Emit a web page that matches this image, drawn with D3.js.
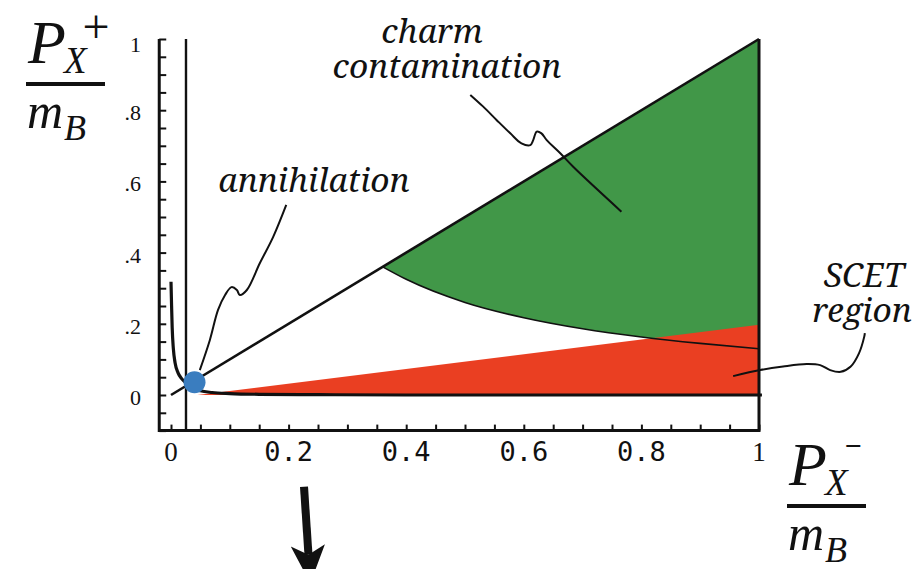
<!DOCTYPE html>
<html>
<head>
<meta charset="utf-8">
<script src="https://cdn.jsdelivr.net/npm/d3@7"></script>
<style>
body { margin: 0; background: #fff; }
svg { display: block; }
</style>
</head>
<body>
<script>
var width = 918, height = 569;

var serifFont = "'Liberation Serif', serif";
var noteFont = "'Noto Serif', 'Liberation Serif', serif";
var monoFont = "'DejaVu Sans Mono', monospace";

// plot window, data units
var xDomain = [-0.02, 1], yDomain = [-0.1, 1];

// tick labels
var yTickValues = [1, 0.8, 0.6, 0.4, 0.2, 0];
var yTickLabels = ["1", ".8", ".6", ".4", ".2", "0"];
var xTickValues = [0, 0.2, 0.4, 0.6, 0.8, 1];
var xTickLabels = ["0", "0.2", "0.4", "0.6", "0.8", "1"];

// thick boundary curve near the origin
var edgeX = [0.000, 0.001, 0.002, 0.004, 0.007, 0.012, 0.018, 0.025, 0.035, 0.05, 0.07, 0.1, 0.15, 0.25, 0.4, 1.005];
var edgeY = [0.318, 0.25, 0.19, 0.13, 0.09, 0.062, 0.046, 0.035, 0.022, 0.012, 0.007, 0.004, 0.002, 0.001, 0, 0];

// charm contamination lower boundary
var charmX = [0.36, 0.4, 0.5, 0.6, 0.7, 0.8, 0.9, 1];
var charmY = [0.36, 0.325, 0.26, 0.217, 0.186, 0.163, 0.145, 0.13];

// SCET wedge corners
var scetX = [0.045, 1, 1];
var scetY = [0, 0.197, 0];

// diagonal P+ = P-
var diagX = [0, 1], diagY = [0, 1];

var cutX = 0.0255;              // vertical cut line
var annX = 0.04, annY = 0.036;  // annihilation point

// leader lines for the labels
var annLeadX = [0.049, 0.066, 0.080, 0.092, 0.103, 0.112, 0.117, 0.129, 0.151, 0.174, 0.196];
var annLeadY = [0.070, 0.154, 0.239, 0.281, 0.303, 0.295, 0.281, 0.295, 0.370, 0.445, 0.534];
var charmLeadX = [0.509, 0.531, 0.554, 0.577, 0.596, 0.611, 0.616, 0.622, 0.630, 0.639, 0.662, 0.684, 0.766];
var charmLeadY = [0.843, 0.810, 0.772, 0.735, 0.707, 0.702, 0.716, 0.740, 0.735, 0.716, 0.679, 0.641, 0.515];
var scetLeadX = [0.956, 1.002, 1.041, 1.081, 1.104, 1.121, 1.139, 1.156, 1.170, 1.179, 1.180];
var scetLeadY = [0.053, 0.070, 0.080, 0.087, 0.084, 0.070, 0.065, 0.080, 0.117, 0.164, 0.174];

// big arrow below the axis
var arrowX = [0.2262, 0.2338], arrowY = [-0.258, -0.449];

var green = "#419748", red = "#ea3f22", blue = "#3a7dbf", ink = "#111";

var x = d3.scaleLinear().domain([0, 1]).range([171, 759]);
var y = d3.scaleLinear().domain([0, 1]).range([395, 39]);

var svg = d3.select("body").append("svg")
  .attr("width", width)
  .attr("height", height);

function pts(xs, ys) { return xs.map(function(v, i) { return [v, ys[i]]; }); }

var line = d3.line().x(function(d) { return x(d[0]); }).y(function(d) { return y(d[1]); });
var smooth = d3.line().x(function(d) { return x(d[0]); }).y(function(d) { return y(d[1]); }).curve(d3.curveMonotoneX);

// green region between diagonal and charm curve
var area = d3.area()
  .x(function(d) { return x(d[0]); })
  .y0(function(d) { return y(d[1]); })
  .y1(function(d) { return y(d[0]); })
  .curve(d3.curveMonotoneX);
svg.append("path").datum(pts(charmX, charmY))
  .attr("d", area).attr("fill", green);

// red SCET wedge
svg.append("path")
  .attr("d", line(pts(scetX, scetY)) + "Z")
  .attr("fill", red);

// charm curve
svg.append("path").datum(pts(charmX, charmY))
  .attr("d", smooth)
  .attr("fill", "none").attr("stroke", ink).attr("stroke-width", 1.6);

// diagonal
svg.append("path").datum(pts(diagX, diagY))
  .attr("d", line)
  .attr("fill", "none").attr("stroke", ink).attr("stroke-width", 2.6);

// thick edge curve
svg.append("path").datum(pts(edgeX, edgeY))
  .attr("d", smooth)
  .attr("fill", "none").attr("stroke", ink).attr("stroke-width", 3.2);

// frame: ticks via axes, then the lines
var xAxis = d3.axisBottom(x).tickValues(d3.range(0, 1.0001, 0.05)).tickSize(-6).tickFormat("");
var yAxis = d3.axisRight(y).tickValues(d3.range(-0.1, 1.0001, 0.05)).tickSize(7).tickFormat("");
var gx = svg.append("g").attr("transform", "translate(0," + y(yDomain[0]) + ")").call(xAxis);
var gy = svg.append("g").attr("transform", "translate(" + x(xDomain[0]) + ",0)").call(yAxis);
[gx, gy].forEach(function(g) {
  g.select(".domain").remove();
  g.selectAll("line").attr("stroke", ink).attr("stroke-width", 2);
});

var frame = svg.append("g").attr("stroke", ink).attr("stroke-width", 3).attr("fill", "none");
frame.append("path").attr("d",
  "M" + x(xDomain[0]) + "," + y(1) + "V" + y(yDomain[0]) + "H" + x(1) + "V" + y(1));
frame.append("line")
  .attr("x1", x(cutX)).attr("x2", x(cutX))
  .attr("y1", y(1)).attr("y2", y(yDomain[0]))
  .attr("stroke-width", 2.4);

// tick labels
svg.selectAll(".ylab").data(yTickValues).enter().append("text")
  .attr("class", "ylab")
  .attr("font-family", serifFont).attr("fill", ink)
  .attr("x", 141).attr("y", function(d) { return y(d) + (d === 1 ? 13 : 10); })
  .attr("text-anchor", "end").attr("font-size", 22)
  .text(function(d, i) { return yTickLabels[i]; });

svg.selectAll(".xlab").data(xTickValues).enter().append("text")
  .attr("class", "xlab")
  .attr("font-family", function(d, i) { return (i === 0 || i === xTickValues.length - 1) ? serifFont : monoFont; })
  .attr("fill", ink)
  .attr("x", function(d) { return x(d); }).attr("y", 461)
  .attr("text-anchor", "middle")
  .attr("font-size", function(d, i) { return (i === 0 || i === xTickValues.length - 1) ? 27 : 27; })
  .text(function(d, i) { return xTickLabels[i]; });

// leader lines
var lead = d3.line().x(function(d) { return x(d[0]); }).y(function(d) { return y(d[1]); }).curve(d3.curveCatmullRom);
[[annLeadX, annLeadY], [charmLeadX, charmLeadY], [scetLeadX, scetLeadY]].forEach(function(l) {
  svg.append("path").datum(pts(l[0], l[1]))
    .attr("d", lead)
    .attr("fill", "none").attr("stroke", ink).attr("stroke-width", 2);
});

// annihilation dot
svg.append("circle")
  .attr("cx", x(annX)).attr("cy", y(annY)).attr("r", 11)
  .attr("fill", blue);

// annotation labels
var notes = [
  {t: "annihilation", cx: 314, by: 192},
  {t: "charm", cx: 432, by: 43},
  {t: "contamination", cx: 447, by: 78},
  {t: "SCET", cx: 864, by: 287},
  {t: "region", cx: 862, by: 322}
];
svg.selectAll(".note").data(notes).enter().append("text")
  .attr("class", "note")
  .attr("font-family", noteFont).attr("fill", ink)
  .attr("x", function(d) { return d.cx; }).attr("y", function(d) { return d.by; })
  .attr("text-anchor", "middle").attr("font-size", 33.5).attr("font-style", "italic")
  .text(function(d) { return d.t; });

// axis titles as fractions
function fraction(x0, top, sign) {
  var g = svg.append("g").attr("font-family", serifFont).attr("fill", ink);
  g.append("text").attr("x", x0 + 2).attr("y", top + 43).attr("font-size", 62).attr("font-style", "italic").text("P");
  g.append("text").attr("x", x0 + 38).attr("y", top + 53).attr("font-size", 37).attr("font-style", "italic").text("X");
  if (sign === "+") {
    g.append("text").attr("x", x0 + 70).attr("y", top + 23)
      .attr("text-anchor", "middle").attr("font-size", 48).text(sign);
  } else {
    g.append("text").attr("x", x0 + 66).attr("y", top + 14)
      .attr("text-anchor", "middle").attr("font-size", 30).attr("font-weight", "bold").text(sign);
  }
  g.append("line").attr("x1", x0).attr("x2", x0 + 79).attr("y1", top + 64).attr("y2", top + 64)
    .attr("stroke", ink).attr("stroke-width", 4);
  g.append("text").attr("x", x0 + 1).attr("y", top + 108).attr("font-size", 50).attr("font-style", "italic").text("m");
  g.append("text").attr("x", x0 + 38).attr("y", top + 120).attr("font-size", 36).attr("font-style", "italic").text("B");
}
fraction(26, 20, "+");
fraction(787, 442, "\u2212");

// arrow
svg.append("defs").append("marker")
  .attr("id", "head").attr("viewBox", "0 -10 20 20")
  .attr("refX", 5).attr("refY", 0)
  .attr("markerUnits", "userSpaceOnUse")
  .attr("markerWidth", 38).attr("markerHeight", 38)
  .attr("orient", "auto")
  .append("path").attr("d", "M0,-9L20,0L0,9L5,0Z").attr("fill", ink);
svg.append("path").datum(pts(arrowX, arrowY))
  .attr("d", line)
  .attr("stroke", ink).attr("stroke-width", 8).attr("fill", "none")
  .attr("marker-end", "url(#head)");
</script>
</body>
</html>
